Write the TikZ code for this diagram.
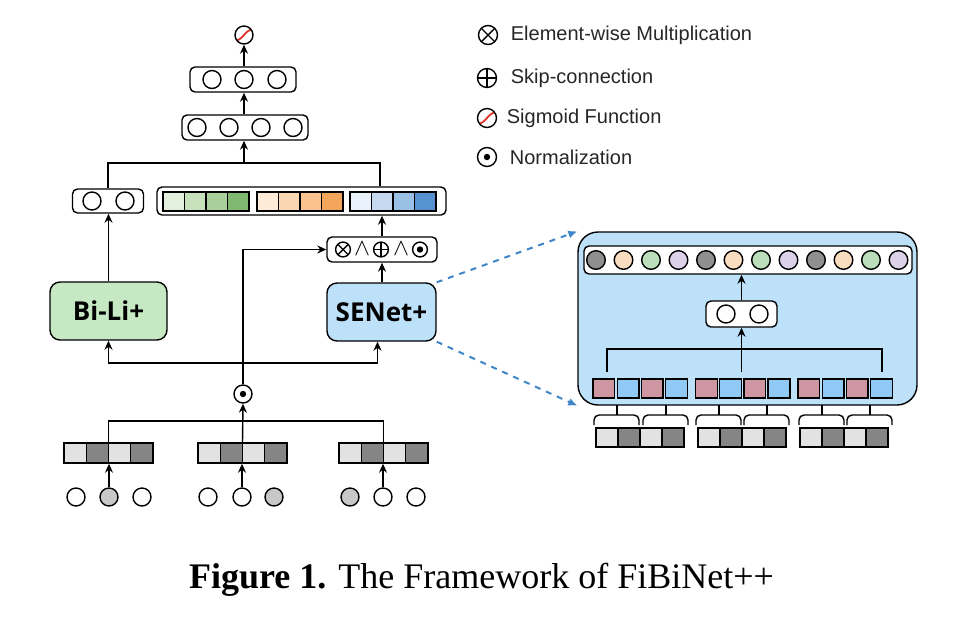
\documentclass[tikz,border=0pt]{standalone}
\usepackage{fontspec}
\newfontfamily\legendfont{Liberation Sans}
\newfontfamily\blockfont{Open Sans}
\newfontfamily\captionfont{Liberation Serif}
\usetikzlibrary{arrows.meta}
\usetikzlibrary{calc}
\usetikzlibrary{positioning}

\definecolor{bligreen}{HTML}{C6E8C3}
\definecolor{seblue}{HTML}{BEE1FA}
\definecolor{hintblue}{HTML}{3F86C8}
\definecolor{sigred}{HTML}{E0332B}
\definecolor{grnA}{HTML}{E3F0DD}
\definecolor{grnB}{HTML}{C7E1BB}
\definecolor{grnC}{HTML}{A9D09B}
\definecolor{grnD}{HTML}{80B872}
\definecolor{orgA}{HTML}{FDEBD7}
\definecolor{orgB}{HTML}{FBD6B2}
\definecolor{orgC}{HTML}{F8C18E}
\definecolor{orgD}{HTML}{F3A65B}
\definecolor{bluA}{HTML}{E9F2FB}
\definecolor{bluB}{HTML}{C4D9F0}
\definecolor{bluC}{HTML}{9BC0E6}
\definecolor{bluD}{HTML}{5692D0}
\definecolor{pinkcell}{HTML}{CD96A1}
\definecolor{bluecell}{HTML}{90C9F5}
\definecolor{cgray}{HTML}{8F8F8F}
\definecolor{cpeach}{HTML}{FADDC1}
\definecolor{cgreen}{HTML}{BBDFBB}
\definecolor{clav}{HTML}{DDD1E9}
\definecolor{lightcell}{HTML}{E2E2E2}
\definecolor{darkcell}{HTML}{858585}
\definecolor{inputgray}{HTML}{C8C8C8}

\tikzset{
  neuron/.style={circle, draw, minimum size=9pt, inner sep=0pt, fill=white},
  layerbox/.style={draw, rounded corners=2.5pt, fill=white, inner sep=0pt},
  block/.style={draw, rounded corners=5pt, inner sep=0pt, minimum height=29pt,
    font=\blockfont\bfseries\fontsize{13}{15}\selectfont},
  arr/.style={-{Stealth[length=4.5pt,width=4pt]}},
  mulmark/.style={neuron, path picture={\draw
    (path picture bounding box.north west) -- (path picture bounding box.south east)
    (path picture bounding box.north east) -- (path picture bounding box.south west);}},
  addmark/.style={neuron, path picture={\draw
    (path picture bounding box.north) -- (path picture bounding box.south)
    (path picture bounding box.west) -- (path picture bounding box.east);}},
  normmark/.style={neuron, path picture={\fill[black] (path picture bounding box.center) circle (1.6pt);}},
  sigmark/.style={neuron, path picture={\draw[sigred, line width=0.9pt]
    ([shift={(-5pt,-2.8pt)}]path picture bounding box.center)
    .. controls ([shift={(0pt,-3pt)}]path picture bounding box.center)
    and ([shift={(0pt,3pt)}]path picture bounding box.center)
    .. ([shift={(5pt,2.8pt)}]path picture bounding box.center);}},
  legendtext/.style={inner sep=0pt, font=\legendfont\fontsize{10}{12}\selectfont, text=black!85},
  hintarrow/.style={draw=hintblue, dashed, line width=1pt, -{Latex[length=4.5pt,width=4pt]}},
}

\begin{document}
\begin{tikzpicture}[x=0.5pt, y=-0.5pt, line width=0.7pt]
    \useasboundingbox (0,0) rectangle (960,634);

    % output tower
    \node[sigmark] (sig) at (244,35) {};
    \node[layerbox, minimum width=53pt, minimum height=12.5pt] (h3) at (243,79.5) {};
    \foreach \x in {212,244,277} \node[neuron] at (\x,79.5) {};
    \node[layerbox, minimum width=63pt, minimum height=12.5pt] (h4) at (245,127.5) {};
    \foreach \x in {197,229,261,293} \node[neuron] at (\x,127.5) {};
    \draw[arr] (h3.north -| sig) -- (sig.south);
    \draw[arr] (h4.north -| sig) -- (h3.south -| sig);

    % concatenation layer
    \node[layerbox, minimum width=35.5pt, minimum height=12pt] (lo) at (108,201) {};
    \foreach \x in {92,125} \node[neuron] at (\x,201) {};
    \node[layerbox, minimum width=144.5pt, minimum height=14pt] (bar) at (301.5,201) {};
    \foreach \g/\pal in {163/grn,257/org,350/blu}
        \foreach \j/\s in {0/A,1/B,2/C,3/D}
            \draw[fill=\pal\s] (\g+\j*21.5,192) rectangle ++(21.5,19);
    \coordinate (mergetop) at (244,163);
    \coordinate (barR) at (380,163);
    \draw (lo.north) |- (barR) -- (barR |- bar.north);
    \draw[arr] (mergetop) -- (h4.south -| mergetop);

    % two branches
    \node[block, fill=bligreen, minimum width=58.5pt] (bili) at (108.5,311) {Bi-Li+};
    \node[block, fill=seblue, minimum width=54.5pt] (se) at (381.5,312) {SENet+};
    \node[layerbox, minimum width=55pt, minimum height=12.5pt] (op) at (382,249.5) {};
    \node[mulmark, minimum size=7.4pt] (opmul) at (343,249.5) {};
    \node[inner sep=0pt, font=\fontsize{13}{13}\selectfont] (opand1) at (362,249) {$\wedge$};
    \node[addmark, minimum size=7.4pt] (opadd) at (381,249.5) {};
    \node[inner sep=0pt, font=\fontsize{13}{13}\selectfont] (opand2) at (401,249) {$\wedge$};
    \node[normmark, minimum size=7.4pt] (opnorm) at (420,249.5) {};
    \draw[arr] (bili.north) -- (lo.south -| bili.north);
    \draw[arr] (se.north -| op) -- (op.south);
    \draw[arr] (op.north) -- (op.north |- bar.south);

    % normalization of embeddings
    \node[normmark] (nd) at (243,394) {};
    \coordinate (split) at (243,363);
    \draw[arr] (nd.north) |- (op.west);
    \draw[arr] (split) -| (bili.south);
    \draw[arr] (split) -| ([xshift=-2pt]se.south);

    % embedding fields
    \foreach \e/\cx in {e1/108.5,e2/242.5,e3/383.5} {
        \node[draw, minimum width=44.5pt, minimum height=10pt, inner sep=0pt] (\e) at (\cx,453) {};
        \foreach \j/\c in {0/lightcell,1/darkcell,2/lightcell,3/darkcell}
            \draw[fill=\c] (\cx-44.5+\j*22.25,443) rectangle ++(22.25,20);
    }
    \coordinate (emerge) at (243,421);
    \draw (e1.north) |- (emerge) -| (e3.north);
    \draw[arr] (e2.north) -- (nd.south);

    % one-hot inputs
    \foreach \n/\x/\c in {a1/76/white,a2/109/inputgray,a3/142/white,
                          b1/208/white,b2/242/white,b3/274/inputgray,
                          c1/350/inputgray,c2/383/white,c3/416/white}
        \node[neuron, fill=\c] (\n) at (\x,497) {};
    \draw[arr] (a2.north) -- (a2.north |- e1.south);
    \draw[arr] (b2.north) -- (b2.north |- e2.south);
    \draw[arr] (c2.north) -- (c2.north |- e3.south);

    % SENet+ detail
    \node[draw, fill=seblue, rounded corners=10pt, minimum width=169.5pt, minimum height=86.5pt,
          inner sep=0pt] (panel) at (747.5,318.5) {};
    \node[layerbox, minimum width=164pt, minimum height=14pt] (topbar) at (748,260) {};
    \foreach \k in {0,1,2}
        \foreach \j/\c in {0/cgray,1/cpeach,2/cgreen,3/clav} {
            \pgfmathsetmacro\cx{596+(4*\k+\j)*27.5}
            \node[neuron, fill=\c, minimum size=9.3pt] at (\cx,260) {};
        }
    \node[layerbox, minimum width=35.5pt, minimum height=13pt] (mid) at (741.5,314) {};
    \foreach \x in {726,759} \node[neuron] at (\x,314) {};
    \draw[arr] (mid.north) -- (mid.north |- topbar.south);
    \coordinate (pl) at (607,372);
    \coordinate (pr) at (882,372);
    \coordinate (pjoin) at (741.5,349);
    \draw (pl) |- (pjoin) -| (pr);
    \draw[arr] (mid.south |- pl) -- (mid.south);
    \foreach \g in {593,695.5,798}
        \foreach \j/\c in {0/pinkcell,1/bluecell,2/pinkcell,3/bluecell}
            \draw[fill=\c] (\g+\j*24.2,379) rectangle ++(21.7,19);

    % pair brackets and field embeddings
    \foreach \c in {617,666,719,767,822,870} {
        \draw (\c,405) -- (\c,415);
        \draw[rounded corners=2.5pt] (\c-23,425) -- (\c-23,415) -- (\c+22,415) -- (\c+22,425);
    }
    \foreach \g in {596,698,800}
        \foreach \j/\c in {0/lightcell,1/darkcell,2/lightcell,3/darkcell}
            \draw[fill=\c] (\g+\j*22,428) rectangle ++(22,19);

    \draw[hintarrow] (se.north east) -- (panel.north west);
    \draw[hintarrow] (se.south east) -- (panel.south west);

    % legend
    \node[mulmark, minimum size=9.5pt] (lgmul) at (488,35) {};
    \node[legendtext, right=6pt of lgmul] (lgmultxt) {Element-wise Multiplication};
    \node[addmark, minimum size=9.5pt] (lgadd) at (487,78) {};
    \node[legendtext, right=6.5pt of lgadd] (lgaddtxt) {Skip-connection};
    \node[sigmark, minimum size=9.5pt] (lgsig) at (487,118) {};
    \node[legendtext, right=4.5pt of lgsig] (lgsigtxt) {Sigmoid Function};
    \node[normmark, minimum size=9.5pt] (lgnorm) at (487,157) {};
    \node[legendtext, right=6pt of lgnorm] (lgnormtxt) {Normalization};

    % caption
    \node[font=\captionfont\fontsize{18}{21}\selectfont] (caption) at (481.5,580) {\textbf{Figure 1.} The Framework of FiBiNet++};
\end{tikzpicture}
\end{document}
